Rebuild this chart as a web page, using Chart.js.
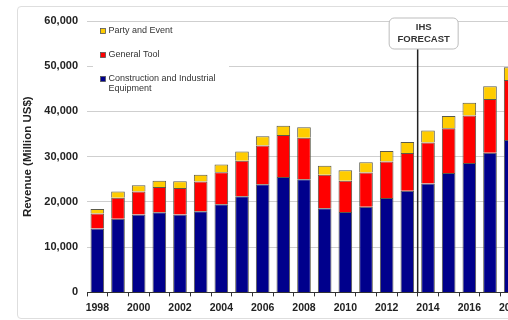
<!DOCTYPE html>
<html>
<head>
<meta charset="utf-8">
<script src="https://cdn.jsdelivr.net/npm/chart.js@4/dist/chart.umd.min.js"></script>
<style>
  html, body {
    margin: 0;
    padding: 0;
    background: #fff;
    width: 508px;
    height: 320px;
    overflow: hidden;
  }

  .frame {
    position: absolute;
    left: 17px;
    top: 6px;
    width: 540px;
    height: 311px;
    border: 1px solid #dedede;
    border-radius: 4px;
  }

  #wrap {
    position: absolute;
    left: 0;
    top: 0;
    width: 530px;
    height: 320px;
  }
</style>
</head>
<body>
<div class="frame"></div>
<div id="wrap"><canvas id="chart" width="530" height="320"></canvas></div>

<script>
const years = [
  "1998", "1999", "2000", "2001", "2002", "2003", "2004", "2005", "2006", "2007", "2008",
  "2009", "2010", "2011", "2012", "2013", "2014", "2015", "2016", "2017", "2018"
];

// revenue by segment, million US$
const construction = [
  14100, 16300, 17200, 17700, 17200, 17950, 19500, 21250, 23900, 25500, 25000,
  18600, 17800, 18950, 20850, 22500, 24050, 26400, 28600, 30900, 33700
];

const generalTool = [
  3350, 4600, 5100, 5600, 5900, 6550, 7050, 7850, 8600, 9300, 9200,
  7400, 6900, 7550, 8100, 8300, 9100, 9900, 10500, 11850, 13250
];

const partyEvent = [
  1000, 1400, 1400, 1400, 1450, 1500, 1700, 2050, 2000, 2050, 2300,
  2000, 2300, 2300, 2300, 2450, 2650, 2700, 2850, 2850, 2800
];

const yTicks = [0, 10000, 20000, 30000, 40000, 50000, 60000];

const forecastFrom = "2014";
const forecastLines = ["IHS", "FORECAST"];

const FONT = "'Liberation Sans', Arial, sans-serif";
const TEXT = "#222";


// legend drawn inside the plot, top-left, newest segment first
const innerLegend = {
  id: "innerLegend",
  afterDatasetsDraw(chart) {
    const { ctx, chartArea } = chart;
    const left = chartArea.left;
    const top = chartArea.top;

    ctx.save();
    ctx.fillStyle = "#fff";
    ctx.fillRect(left + 6, top + 4, 136, 76);

    ctx.font = "9px " + FONT;
    ctx.textBaseline = "middle";

    let y = top + 10;
    const items = chart.data.datasets.slice().reverse();

    for (const ds of items) {
      const words = ds.label.split(" ");
      const lines = [];
      let line = "";

      for (const w of words) {
        const test = line ? line + " " + w : w;
        if (line && ctx.measureText(test).width > 115) {
          lines.push(line);
          line = w;
        } else {
          line = test;
        }
      }
      lines.push(line);

      ctx.fillStyle = ds.backgroundColor;
      ctx.strokeStyle = "#555";
      ctx.lineWidth = 0.8;
      ctx.fillRect(left + 13.5, y - 2.5, 5, 5);
      ctx.strokeRect(left + 13.5, y - 2.5, 5, 5);

      ctx.fillStyle = "#333";
      lines.forEach((t, i) => {
        ctx.fillText(t, left + 21.5, y + i * 10);
      });

      y += 24;
    }

    ctx.restore();
  }
};


// vertical marker between actuals and forecast, with its label box
const forecastMarker = {
  id: "forecastMarker",
  afterDatasetsDraw(chart) {
    const { ctx, chartArea, scales } = chart;
    const idx = years.indexOf(forecastFrom);
    const x = (scales.x.getPixelForValue(idx - 1) + scales.x.getPixelForValue(idx)) / 2;

    const boxW = 69;
    const boxH = 31;
    const boxX = x + 6 - boxW / 2;
    const boxY = chartArea.top - 3;

    ctx.save();

    ctx.strokeStyle = "#222";
    ctx.lineWidth = 1.5;
    ctx.beginPath();
    ctx.moveTo(x, boxY + boxH);
    ctx.lineTo(x, chartArea.bottom);
    ctx.stroke();

    ctx.fillStyle = "#fff";
    ctx.strokeStyle = "#bdbdbd";
    ctx.lineWidth = 1;
    ctx.beginPath();
    ctx.roundRect(boxX, boxY, boxW, boxH, 5);
    ctx.fill();
    ctx.stroke();

    ctx.fillStyle = "#333";
    ctx.font = "bold 9.5px " + FONT;
    ctx.textAlign = "center";
    ctx.textBaseline = "middle";
    forecastLines.forEach((t, i) => {
      ctx.fillText(t, boxX + boxW / 2, boxY + 9.5 + i * 12);
    });

    ctx.restore();
  }
};


const barStyle = {
  borderColor: "#5a5a4a",
  borderWidth: 1,
  barPercentage: 0.66,
  categoryPercentage: 1
};

const ctx = document.getElementById("chart").getContext("2d");

new Chart(ctx, {
  type: "bar",
  data: {
    labels: years,
    datasets: [
      Object.assign({
        label: "Construction and Industrial Equipment",
        data: construction,
        backgroundColor: "#00008c"
      }, barStyle),
      Object.assign({
        label: "General Tool",
        data: generalTool,
        backgroundColor: "#ff0000"
      }, barStyle),
      Object.assign({
        label: "Party and Event",
        data: partyEvent,
        backgroundColor: "#ffcc00"
      }, barStyle)
    ]
  },
  options: {
    responsive: false,
    animation: false,
    layout: {
      padding: { left: 0, top: 21, right: 9, bottom: 0 }
    },
    plugins: {
      legend: { display: false },
      tooltip: { enabled: false }
    },
    scales: {
      x: {
        stacked: true,
        offset: true,
        border: { color: "#333", width: 1 },
        grid: {
          offset: true,
          drawOnChartArea: false,
          tickLength: 4,
          color: "#333"
        },
        ticks: {
          autoSkip: false,
          maxRotation: 0,
          padding: 5.5,
          color: TEXT,
          font: { family: FONT, size: 10.5, weight: "bold" },
          callback: (v, i) => (i % 2 === 0 ? years[i] : "")
        }
      },
      y: {
        stacked: true,
        min: yTicks[0],
        max: yTicks[yTicks.length - 1],
        border: { display: false },
        grid: {
          color: "#cfcfcf",
          drawTicks: false
        },
        afterBuildTicks: (scale) => {
          scale.ticks = yTicks.map(v => ({ value: v }));
        },
        afterFit: (scale) => {
          scale.width = 87;
        },
        ticks: {
          padding: 9,
          color: TEXT,
          font: { family: FONT, size: 11, weight: "bold" },
          callback: v => v.toLocaleString("en-US")
        },
        title: {
          display: true,
          text: "Revenue (Million US$)",
          color: TEXT,
          padding: { top: 21, bottom: 0 },
          font: { family: FONT, size: 11.5, weight: "bold" }
        }
      }
    }
  },
  plugins: [innerLegend, forecastMarker]
});
</script>
</body>
</html>
